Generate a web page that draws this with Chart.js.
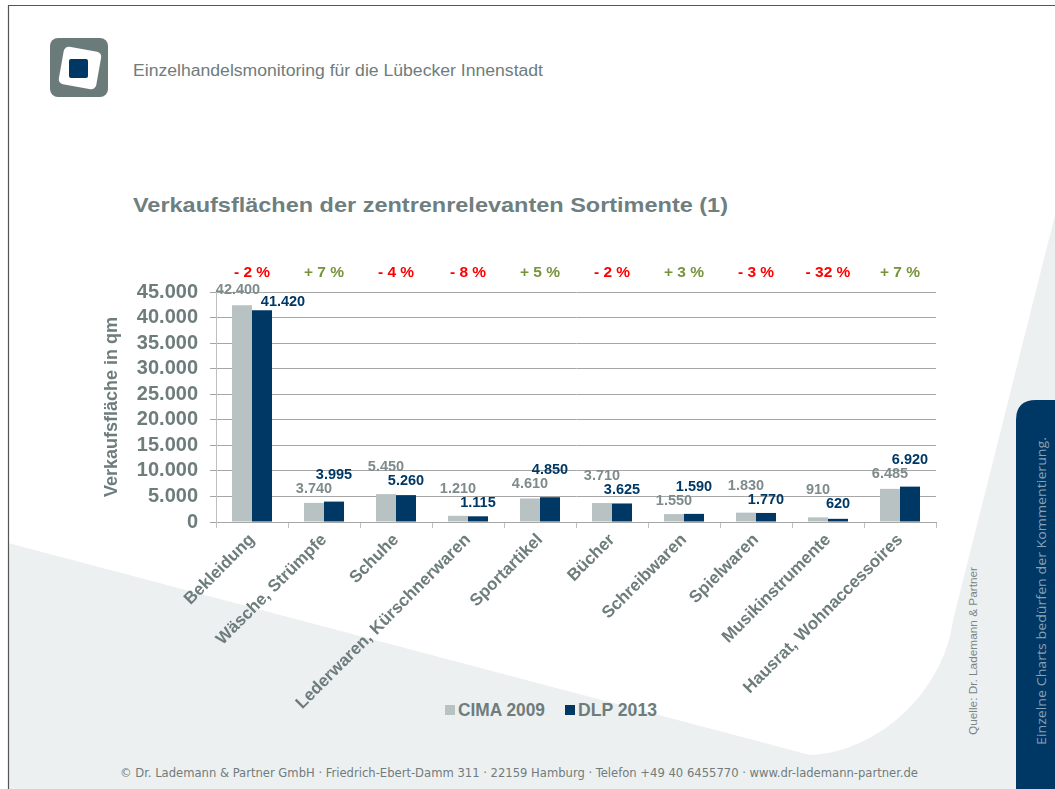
<!DOCTYPE html>
<html><head><meta charset="utf-8">
<script src="https://cdn.jsdelivr.net/npm/chart.js@4/dist/chart.umd.min.js"></script>
<style>
html,body{margin:0;padding:0;background:#fff;}
#wrap{position:relative;width:1055px;height:789px;overflow:hidden;}
#bg{position:absolute;left:0;top:0;}
#c{position:absolute;left:0;top:0;}
</style></head>
<body>
<div id="wrap">
<svg id="bg" width="1055" height="789" xmlns="http://www.w3.org/2000/svg"></svg>
<canvas id="c" width="1055" height="789"></canvas>
</div>
<script>
const categories = ['Bekleidung','Wäsche, Strümpfe','Schuhe','Lederwaren, Kürschnerwaren','Sportartikel','Bücher','Schreibwaren','Spielwaren','Musikinstrumente','Hausrat, Wohnaccessoires'];
const seriesNames = ['CIMA 2009','DLP 2013'];
const cima2009 = [42400,3740,5450,1210,4610,3710,1550,1830,910,6485];
const dlp2013  = [41420,3995,5260,1115,4850,3625,1590,1770,620,6920];
const changePct = [-2,7,-4,-8,5,-2,3,-3,-32,7];
const yTicks = [0,5000,10000,15000,20000,25000,30000,35000,40000,45000];

const GREY_BAR = '#b8c2c2', NAVY = '#003865', TXT = '#6e7c7c', GREY_LBL = '#7f8b8b';
const FONT = '"Liberation Sans", Arial, sans-serif';
const fmt = v => String(v).replace(/\B(?=(\d{3})+(?!\d))/g, '.');

// ---- background / decoration (SVG) ----
const svg = document.getElementById('bg');
const NS = 'http://www.w3.org/2000/svg';
function el(tag, attrs, text){ const e=document.createElementNS(NS,tag); for(const k in attrs) e.setAttribute(k,attrs[k]); if(text!==undefined) e.textContent=text; svg.appendChild(e); return e; }
el('rect',{x:0,y:0,width:1055,height:789,fill:'#edf0f1'});
el('path',{d:'M0,0 L1055,0 L1055,215 L953,620 C944,690 880,752 810,755 L8,543 L8,789 L0,789 Z',fill:'#ffffff'});
el('path',{d:'M1055,400 L1036,400 Q1016,400 1016,420 L1016,789 L1055,789 Z',fill:'#003865'});
el('line',{x1:8,y1:5.5,x2:1055,y2:5.5,stroke:'#555',"stroke-width":1.2});
el('line',{x1:8.5,y1:5,x2:8.5,y2:789,stroke:'#555',"stroke-width":1.2});
// logo
el('rect',{x:50,y:38,width:58,height:59,rx:8,fill:'#6a7b79'});
el('rect',{x:61,y:49,width:38,height:38,rx:5,fill:'#ffffff',transform:'rotate(10 80 68)'});
el('rect',{x:69,y:59,width:19,height:19,rx:2,fill:'#003865'});
// texts
el('text',{x:133,y:76,'font-family':FONT,'font-size':16,fill:TXT,textLength:410,lengthAdjust:'spacingAndGlyphs'},'Einzelhandelsmonitoring für die Lübecker Innenstadt');
el('text',{x:133,y:211.5,'font-family':FONT,'font-size':21,'font-weight':'bold',fill:'#6f7f7f',textLength:595,lengthAdjust:'spacingAndGlyphs'},'Verkaufsflächen der zentrenrelevanten Sortimente (1)');
el('text',{x:519,y:777,'font-family':'"Liberation Sans Narrow","DejaVu Sans Condensed",sans-serif','font-size':13,fill:'#707c7c','text-anchor':'middle',textLength:798,lengthAdjust:'spacingAndGlyphs'},'© Dr. Lademann & Partner GmbH · Friedrich-Ebert-Damm 311 · 22159 Hamburg · Telefon +49 40 6455770 · www.dr-lademann-partner.de');
el('text',{x:0,y:0,'font-family':FONT,'font-size':11,fill:'#7a8585','text-anchor':'middle',textLength:168,lengthAdjust:'spacingAndGlyphs',transform:'translate(977 651) rotate(-90)'},'Quelle:  Dr. Lademann & Partner');
el('text',{x:0,y:0,'font-family':'"Open Sans",sans-serif','font-size':13.5,fill:'#8aa0b4','text-anchor':'middle',textLength:308,lengthAdjust:'spacingAndGlyphs',transform:'translate(1045.5 591) rotate(-90)'},'Einzelne Charts bedürfen der Kommentierung.');
// legend
el('rect',{x:445,y:705,width:10,height:10,fill:GREY_BAR});
el('text',{x:458,y:715.5,'font-family':FONT,'font-size':17.5,'font-weight':'bold',fill:TXT,textLength:87,lengthAdjust:'spacingAndGlyphs'},seriesNames[0]);
el('rect',{x:565,y:705,width:10,height:10,fill:NAVY});
el('text',{x:578,y:715.5,'font-family':FONT,'font-size':17.5,'font-weight':'bold',fill:TXT,textLength:79,lengthAdjust:'spacingAndGlyphs'},seriesNames[1]);

// ---- chart ----
const labelPlugin = {
  id:'valueLabels',
  afterDatasetsDraw(chart){
    const ctx = chart.ctx, area = chart.chartArea, xs = chart.scales.x;
    const m0 = chart.getDatasetMeta(0), m1 = chart.getDatasetMeta(1);
    ctx.save();
    ctx.textAlign='center'; ctx.textBaseline='middle';
    categories.forEach((c,i)=>{
      const b0=m0.data[i], b1=m1.data[i];
      const v0=cima2009[i], v1=dlp2013[i];
      const hi=Math.min(b0.y,b1.y);
      let up=hi-27, low=hi-13, shift=0;
      if(up<area.top-2){ up=area.top-2; low=Math.max(low, up+12); shift=21; }
      const greyHigher = v0>=v1;
      const y0 = greyHigher?up:low, y1 = greyHigher?low:up;
      ctx.font='bold 14.5px '+FONT; ctx.fillStyle=GREY_LBL;
      ctx.fillText(fmt(v0), b0.x-(shift?4:0), y0);
      ctx.fillStyle=NAVY;
      ctx.fillText(fmt(v1), b1.x+shift, y1);
      const p=changePct[i];
      ctx.font='bold 15.5px '+FONT;
      ctx.fillStyle = p<0 ? '#ff0000' : '#77933c';
      ctx.fillText((p<0?'- ':'+ ')+Math.abs(p)+' %', xs.getPixelForValue(i), area.top-19);
    });
    ctx.restore();
  }
};

new Chart(document.getElementById('c'), {
  type:'bar',
  data:{
    labels:categories,
    datasets:[
      {label:seriesNames[0], data:cima2009, backgroundColor:GREY_BAR, categoryPercentage:0.5556, barPercentage:1},
      {label:seriesNames[1], data:dlp2013, backgroundColor:NAVY, categoryPercentage:0.5556, barPercentage:1}
    ]
  },
  options:{
    responsive:false, animation:false, devicePixelRatio:1,
    layout:{padding:{left:97,right:119,top:292,bottom:67}},
    plugins:{legend:{display:false}, tooltip:{enabled:false}},
    scales:{
      x:{
        grid:{offset:true, drawOnChartArea:false, drawTicks:true, tickLength:6, color:'#bfbfbf'},
        border:{color:'#a6a6a6'},
        ticks:{autoSkip:false, minRotation:45, maxRotation:45, padding:2, color:TXT, font:{family:FONT, size:17, weight:'bold'}},
        afterFit(s){ s.height=200; }
      },
      y:{
        min:0, max:45000,
        afterBuildTicks(s){ s.ticks = yTicks.map(v=>({value:v})); },
        grid:{color:'#a6a6a6', tickLength:6},
        border:{color:'#bfbfbf'},
        ticks:{autoSkip:false, padding:12, color:TXT, font:{family:FONT, size:20, weight:'bold'}, callback:v=>fmt(v)},
        title:{display:true, text:'Verkaufsfläche in qm', color:TXT, font:{family:FONT, size:18, weight:'bold'}},
        afterFit(s){ s.width=119; }
      }
    }
  },
  plugins:[labelPlugin]
});
</script>
</body></html>
